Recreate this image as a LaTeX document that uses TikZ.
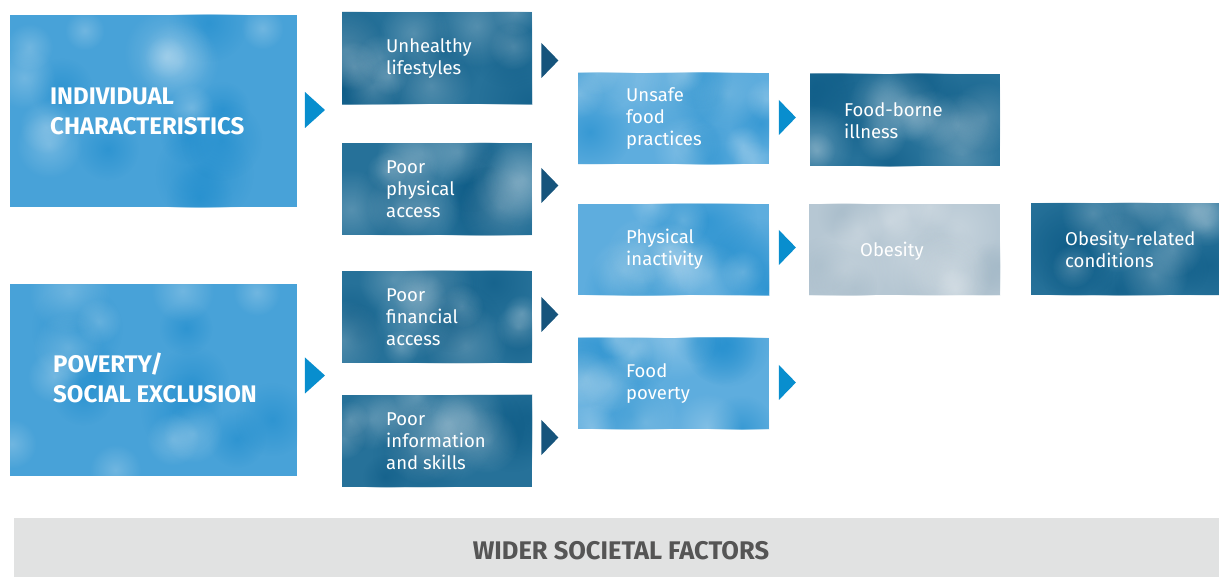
\documentclass[tikz,border=0pt]{standalone}
\usepackage{fontspec}
\setmainfont{Fira Sans}
\usetikzlibrary{shapes.geometric,calc,fadings}
\definecolor{bigblue}{RGB}{72,162,216}
\definecolor{bigdeep}{RGB}{30,140,205}
\definecolor{midblue}{RGB}{94,173,222}
\definecolor{darkteal}{RGB}{38,113,153}
\definecolor{darkdeep}{RGB}{14,92,135}
\definecolor{greyblue}{RGB}{182,199,211}
\definecolor{greydeep}{RGB}{160,182,197}
\definecolor{arrowdark}{RGB}{22,84,124}
\definecolor{arrowbright}{RGB}{8,142,206}
\definecolor{bandgrey}{RGB}{225,226,226}
\definecolor{bandtext}{RGB}{85,85,85}
\tikzfading[name=softspot, inner color=transparent!0, outer color=transparent!100]
\tikzset{
  panel/.style={draw=none, inner sep=0pt, anchor=north west, minimum width=#1},
  bigbox/.style={panel=287pt, minimum height=192pt, fill=bigblue},
  darkbox/.style={panel=190pt, minimum height=92pt, fill=darkteal},
  lightbox/.style={panel=191pt, minimum height=91pt, fill=midblue},
  greybox/.style={panel=191pt, minimum height=91pt, fill=greyblue},
  txt/.style={anchor=west, align=left, inner sep=0pt, text=white,
    font=\fontsize{18.5}{22}\selectfont},
  bigtxt/.style={anchor=west, align=left, inner sep=0pt, text=white,
    font=\fontsize{24}{30}\selectfont\bfseries},
  tri/.style={isosceles triangle, isosceles triangle stretches, fill=#1,
    draw=none, inner sep=0pt, shape border rotate=0},
  smalltri/.style={tri=#1, minimum width=35pt, minimum height=17pt},
  largetri/.style={tri=#1, minimum width=36pt, minimum height=20pt},
  blob/.style={fill=#1, path fading=softspot},
}
\pgfmathsetseed{11}
\newcommand\washbox[3]{% node, light-blob colour, deep-blob colour
  \begin{scope}
    \clip (#1.north west) rectangle (#1.south east);
    \foreach \k in {1,...,8}{
      \path[blob=#3, opacity=0.6] let \p1=(#1.north west), \p2=(#1.south east),
        \n1={\x1+rnd*(\x2-\x1)}, \n2={\y1+rnd*(\y2-\y1)}, \n3={(22+30*rnd)*1pt} in
        (\n1,\n2) circle[radius=\n3];
    }
    \foreach \k in {1,...,10}{
      \path[blob=#2, opacity=0.22] let \p1=(#1.north west), \p2=(#1.south east),
        \n1={\x1+rnd*(\x2-\x1)}, \n2={\y1+rnd*(\y2-\y1)}, \n3={(18+28*rnd)*1pt} in
        (\n1,\n2) circle[radius=\n3];
    }
  \end{scope}}
\begin{document}
\begin{tikzpicture}[x=1pt,y=-1pt]
\useasboundingbox (0,0) rectangle (1219,577);
% boxes
\node[bigbox] (ind) at (10,15) {};
\node[bigbox] (pov) at (10,284) {};
\node[darkbox] (ul) at (342,12) {};
\node[darkbox] (pp) at (342,143) {};
\node[darkbox] (pf) at (342,271) {};
\node[darkbox] (pi) at (342,395) {};
\node[lightbox] (us) at (578,73) {};
\node[lightbox] (pa) at (578,204) {};
\node[lightbox] (fp) at (578,338) {};
\node[darkbox] (fb) at (810,74) {};
\node[greybox] (ob) at (809,204) {};
\node[darkbox, minimum width=191pt] (orc) at (1031,203) {};
% watercolour wash
\washbox{ind}{white}{bigdeep}
\washbox{pov}{white}{bigdeep}
\washbox{ul}{white}{darkdeep}
\washbox{pp}{white}{darkdeep}
\washbox{pf}{white}{darkdeep}
\washbox{pi}{white}{darkdeep}
\washbox{us}{white}{bigdeep}
\washbox{pa}{white}{bigdeep}
\washbox{fp}{white}{bigdeep}
\washbox{fb}{white}{darkdeep}
\washbox{ob}{white}{greydeep}
\washbox{orc}{white}{darkdeep}
% texts
\node[bigtxt] (indt) at ([xshift=40pt,yshift=0pt]ind.west) {INDIVIDUAL\\CHARACTERISTICS};
\node[bigtxt] (povt) at ([xshift=43pt,yshift=2pt]pov.west) {POVERTY/\\SOCIAL EXCLUSION};
\node[txt] (ult) at ([xshift=44pt]ul.west) {Unhealthy\\lifestyles};
\node[txt] (ppt) at ([xshift=44pt]pp.west) {Poor\\physical\\access};
\node[txt] (pft) at ([xshift=44pt]pf.west) {Poor\\financial\\access};
\node[txt] (pit) at ([xshift=44pt]pi.west) {Poor\\information\\and skills};
\node[txt] (ust) at ([xshift=48pt]us.west) {Unsafe\\food\\practices};
\node[txt] (pat) at ([xshift=48pt]pa.west) {Physical\\inactivity};
\node[txt] (fpt) at ([xshift=48pt]fp.west) {Food\\poverty};
\node[txt] (fbt) at ([xshift=34pt]fb.west) {Food-borne\\illness};
\node[txt] (obt) at ([xshift=51pt,yshift=-2pt]ob.west) {Obesity};
\node[txt] (orct) at ([xshift=34pt]orc.west) {Obesity-related\\conditions};
% arrow markers
\node[largetri=arrowbright] (a1) at (313,110) {};
\node[largetri=arrowbright] (a2) at (313,375.5) {};
\node[smalltri=arrowdark] (b1) at (548.5,60.5) {};
\node[smalltri=arrowdark] (b2) at (548.5,185.5) {};
\node[smalltri=arrowdark] (b3) at (548.5,314.5) {};
\node[smalltri=arrowdark] (b4) at (548.5,437.5) {};
\node[smalltri=arrowbright] (c1) at (786,117.5) {};
\node[smalltri=arrowbright] (c2) at (786,247.5) {};
\node[smalltri=arrowbright] (c3) at (786,382.5) {};
% band
\node[draw=none, fill=bandgrey, inner sep=0pt, anchor=north west,
  minimum width=1205pt, minimum height=59pt] (band) at (14,518) {};
\node[text=bandtext, font=\fontsize{25.5}{28}\selectfont\bfseries, inner sep=0pt]
  (bandt) at (621,551) {WIDER SOCIETAL FACTORS};
\end{tikzpicture}
\end{document}
